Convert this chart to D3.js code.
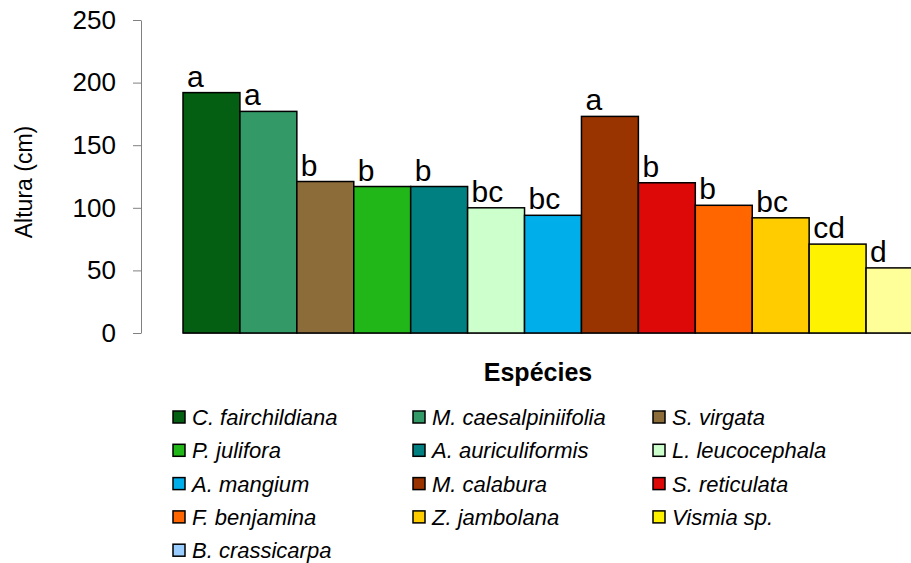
<!DOCTYPE html>
<html>
<head>
<meta charset="utf-8">
<script src="https://cdn.jsdelivr.net/npm/d3@7"></script>
<style>
  html, body { margin: 0; padding: 0; background: #fff; }
  svg { display: block; font-family: Arial, "Liberation Sans", sans-serif; }
</style>
</head>
<body>
<svg id="chart" width="911" height="563"></svg>
<script>
// ---- data ----
const species = ["C. fairchildiana", "M. caesalpiniifolia", "S. virgata", "P. julifora",
  "A. auriculiformis", "L. leucocephala", "A. mangium", "M. calabura", "S. reticulata",
  "F. benjamina", "Z. jambolana", "Vismia sp.", "B. crassicarpa"];
const heights = [192, 177, 121, 117, 117, 100, 94, 173, 120, 102, 92, 71, 52];
const letters = ["a", "a", "b", "b", "b", "bc", "bc", "a", "b", "b", "bc", "cd", "d"];
const barColors = ["#045F12", "#339966", "#8C6D3A", "#21B719", "#008080", "#CCFFCC",
  "#00AEEA", "#993300", "#DD0808", "#FF6600", "#FFCC00", "#FFF200", "#FFFF99"];
const legendColors = ["#045F12", "#339966", "#8C6D3A", "#21B719", "#008080", "#CCFFCC",
  "#00AEEA", "#993300", "#DD0808", "#FF6600", "#FFCC00", "#FFF200", "#99CCFF"];
const yTicks = [0, 50, 100, 150, 200, 250];

// ---- layout ----
const svg = d3.select("#chart");
const axisX = 141, yTop = 20, yBottom = 333;
const y = d3.scaleLinear().domain([0, 250]).range([yBottom, yTop]);
const x = d3.scaleBand().domain(species).range([183, 923]).paddingInner(0).paddingOuter(0);

// x baseline (under bars)
svg.append("line")
  .attr("x1", x(species[0])).attr("x2", 911)
  .attr("y1", yBottom + 0.5).attr("y2", yBottom + 0.5)
  .attr("stroke", "#808080").attr("stroke-width", 1);

// bars
svg.append("g").selectAll("rect").data(species).join("rect")
  .attr("x", d => x(d))
  .attr("y", (d, i) => y(heights[i]))
  .attr("width", x.bandwidth())
  .attr("height", (d, i) => y(0) - y(heights[i]))
  .attr("fill", (d, i) => barColors[i])
  .attr("stroke", "#000").attr("stroke-width", 1.5);

// letters
svg.append("g").selectAll("text").data(species).join("text")
  .attr("x", d => x(d) + 4)
  .attr("y", (d, i) => y(heights[i]) - 6)
  .attr("font-size", 30)
  .attr("fill", "#000")
  .text((d, i) => letters[i]);

// y axis
const yAxis = svg.append("g")
  .attr("transform", `translate(${axisX},0)`)
  .call(d3.axisLeft(y).tickValues(yTicks).tickSize(8).tickSizeOuter(0).tickPadding(17));
yAxis.select(".domain").attr("stroke", "#808080");
yAxis.selectAll(".tick line").attr("stroke", "#808080");
yAxis.selectAll(".tick text").attr("font-size", 26).attr("fill", "#000")
  .attr("font-family", "Arial, 'Liberation Sans', sans-serif");

// y title
svg.append("text")
  .attr("transform", "translate(32,182) rotate(-90)")
  .attr("text-anchor", "middle")
  .attr("font-size", 23)
  .text("Altura (cm)");

// x title
svg.append("text")
  .attr("x", 538).attr("y", 381)
  .attr("text-anchor", "middle")
  .attr("font-size", 25).attr("font-weight", "bold")
  .text("Espécies");

// legend
const legend = svg.append("g");
const cols = 3, colStep = 240, rowStep = 33.3, lx0 = 173, ly0 = 417;
const items = legend.selectAll("g").data(species).join("g")
  .attr("transform", (d, i) => `translate(${lx0 + (i % cols) * colStep},${ly0 + Math.floor(i / cols) * rowStep})`);
items.append("rect")
  .attr("x", 0).attr("y", -6).attr("width", 12).attr("height", 12)
  .attr("fill", (d, i) => legendColors[i])
  .attr("stroke", "#000").attr("stroke-width", 1.5);
items.append("text")
  .attr("x", 19).attr("y", 8)
  .attr("font-size", 22).attr("font-style", "italic")
  .text(d => d);
</script>
</body>
</html>
